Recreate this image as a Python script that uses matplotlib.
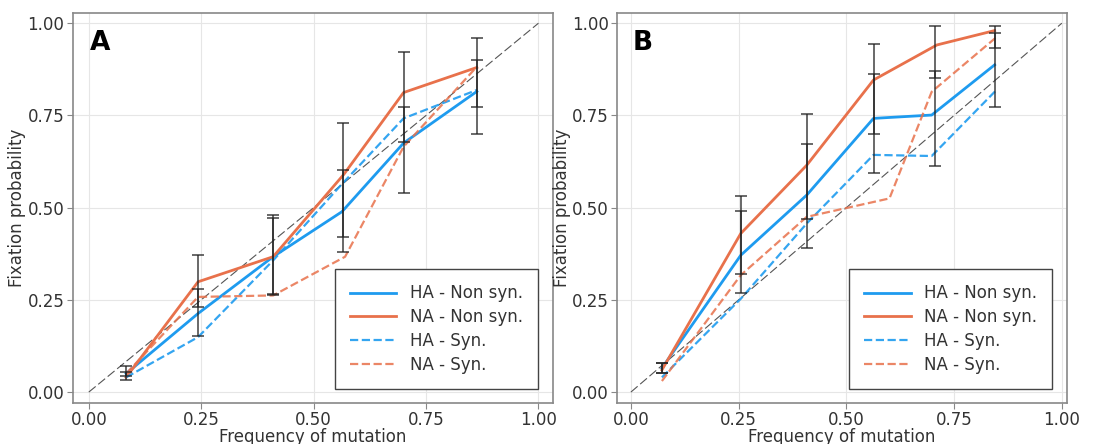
import matplotlib
matplotlib.use('Agg')
import matplotlib.pyplot as plt

# ---- data ----
# Panel A
a_x_ha_ns = [0.083, 0.243, 0.41, 0.563, 0.70, 0.863]
a_ha_ns = [0.05, 0.213, 0.367, 0.489, 0.675, 0.815]
a_x_na_ns = [0.083, 0.243, 0.41, 0.567, 0.70, 0.863]
a_na_ns = [0.04, 0.299, 0.367, 0.59, 0.812, 0.88]
a_x_ha_s = [0.083, 0.243, 0.41, 0.56, 0.70, 0.863]
a_ha_s = [0.04, 0.149, 0.357, 0.56, 0.742, 0.819]
a_x_na_s = [0.083, 0.243, 0.41, 0.57, 0.70, 0.86]
a_na_s = [0.05, 0.258, 0.262, 0.367, 0.665, 0.878]
# error bar ranges (low, high)
a_err_x = [0.083, 0.243, 0.41, 0.565, 0.70, 0.863]
a_ha_lo = [0.032, 0.152, 0.262, 0.38, 0.54, 0.701]
a_ha_hi = [0.07, 0.28, 0.473, 0.602, 0.772, 0.90]
a_na_lo = [0.043, 0.231, 0.267, 0.421, 0.679, 0.772]
a_na_hi = [0.054, 0.371, 0.479, 0.73, 0.921, 0.961]

# Panel B
b_x_ha_ns = [0.072, 0.255, 0.408, 0.563, 0.698, 0.844]
b_ha_ns = [0.065, 0.371, 0.534, 0.742, 0.751, 0.887]
b_x_na_ns = [0.072, 0.255, 0.408, 0.563, 0.71, 0.844]
b_na_ns = [0.06, 0.43, 0.615, 0.846, 0.941, 0.98]
b_x_ha_s = [0.072, 0.255, 0.408, 0.563, 0.698, 0.85]
b_ha_s = [0.04, 0.253, 0.457, 0.643, 0.64, 0.821]
b_x_na_s = [0.072, 0.255, 0.408, 0.60, 0.698, 0.85]
b_na_s = [0.03, 0.317, 0.475, 0.525, 0.814, 0.964]
b_err_x = [0.072, 0.255, 0.408, 0.563, 0.705, 0.844]
b_ha_lo = [0.052, 0.269, 0.391, 0.593, 0.613, 0.772]
b_ha_hi = [0.079, 0.491, 0.672, 0.862, 0.871, 0.973]
b_na_lo = [0.052, 0.319, 0.47, 0.701, 0.851, 0.932]
b_na_hi = [0.079, 0.531, 0.753, 0.943, 0.993, 0.993]

ticks = [0.0, 0.25, 0.5, 0.75, 1.0]
tick_labels = ['0.00', '0.25', '0.50', '0.75', '1.00']
blue = '#1E9BEF'
orange = '#E8714B'
textc = '#333333'

plt.rcParams['font.family'] = 'DejaVu Sans'

fig = plt.figure(figsize=(11, 4.44), dpi=100)
axA = fig.add_axes([0.066, 0.092, 0.437, 0.879])
axB = fig.add_axes([0.561, 0.092, 0.409, 0.879])


def draw(ax, label, xlim, data, err):
    ax.grid(True, color='#e6e6e6', lw=0.8)
    ax.set_axisbelow(True)
    ax.plot([0, 1], [0, 1], color='#555555', lw=0.8, ls=(0, (8, 3)))
    (xhn, hn), (xnn, nn), (xhs, hs), (xns, ns) = data
    ax.plot(xhn, hn, color=blue, lw=2, label='HA - Non syn.')
    ax.plot(xnn, nn, color=orange, lw=2, label='NA - Non syn.')
    ax.plot(xhs, hs, color=blue, lw=1.6, ls='--', alpha=0.9, label='HA - Syn.')
    ax.plot(xns, ns, color=orange, lw=1.6, ls='--', alpha=0.85, label='NA - Syn.')
    ex, hlo, hhi, nlo, nhi = err
    for lo, hi in [(hlo, hhi), (nlo, nhi)]:
        mid = [(l + h) / 2 for l, h in zip(lo, hi)]
        yerr = [[m - l for m, l in zip(mid, lo)], [h - m for h, m in zip(hi, mid)]]
        ax.errorbar(ex, mid, yerr=yerr, fmt='none', ecolor='#222222',
                    elinewidth=1.2, capsize=4, capthick=1.2, alpha=0.8)
    ax.set_xlim(*xlim)
    ax.set_ylim(-0.03, 1.028)
    ax.set_xticks(ticks)
    ax.set_xticklabels(tick_labels)
    ax.set_yticks(ticks)
    ax.set_yticklabels(tick_labels)
    ax.tick_params(labelsize=12, colors=textc, length=4, color='#888888', pad=2)
    for s in ax.spines.values():
        s.set_color('#888888')
        s.set_linewidth(1.2)
    ax.set_xlabel('Frequency of mutation', fontsize=12, color=textc, labelpad=-1)
    ax.set_ylabel('Fixation probability', fontsize=12, color=textc, labelpad=1)
    ax.text(0.035, 0.955, label, transform=ax.transAxes, fontsize=19,
            fontweight='bold', va='top', ha='left')
    leg = ax.legend(loc='lower right', fontsize=12, fancybox=False,
                    framealpha=1, edgecolor='#444444', borderpad=0.9,
                    handlelength=2.8, labelspacing=0.35,
                    bbox_to_anchor=(0.985, 0.015))
    for t in leg.get_texts():
        t.set_color(textc)


draw(axA, 'A', (-0.036, 1.033),
     [(a_x_ha_ns, a_ha_ns), (a_x_na_ns, a_na_ns), (a_x_ha_s, a_ha_s), (a_x_na_s, a_na_s)],
     (a_err_x, a_ha_lo, a_ha_hi, a_na_lo, a_na_hi))
draw(axB, 'B', (-0.032, 1.012),
     [(b_x_ha_ns, b_ha_ns), (b_x_na_ns, b_na_ns), (b_x_ha_s, b_ha_s), (b_x_na_s, b_na_s)],
     (b_err_x, b_ha_lo, b_ha_hi, b_na_lo, b_na_hi))

fig.savefig('out.png', dpi=100)
